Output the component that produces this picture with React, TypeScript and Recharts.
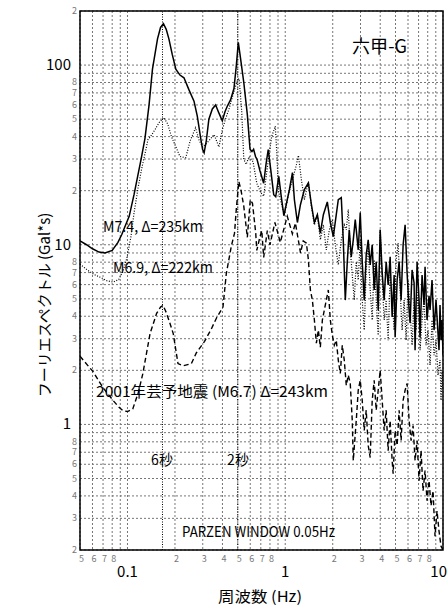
import React from 'react';
import { LineChart, Line, XAxis, YAxis, CartesianGrid, ReferenceLine, ReferenceArea } from 'recharts';

const FONT = '"Noto Sans CJK JP", "Noto Sans", sans-serif';

// 目盛り (対数軸)
const xTicks = [0.05, 0.06, 0.07, 0.08, 0.09, 0.1, 0.2, 0.3, 0.4, 0.5, 0.6, 0.7, 0.8, 0.9, 1, 2, 3, 4, 5, 6, 7, 8, 9, 10];
const xTickText = ['5', '6', '7', '8', '', '0.1', '2', '3', '4', '5', '6', '7', '8', '', '1', '2', '3', '4', '5', '6', '7', '8', '', '10'];
const xMajor = [0.1, 1, 10];

const yTicks = [0.2, 0.3, 0.4, 0.5, 0.6, 0.7, 0.8, 0.9, 1, 2, 3, 4, 5, 6, 7, 8, 9, 10, 20, 30, 40, 50, 60, 70, 80, 90, 100, 200];
const yTickText = ['2', '3', '4', '5', '6', '7', '8', '', '1', '2', '3', '4', '5', '6', '7', '8', '', '10', '2', '3', '4', '5', '6', '7', '8', '', '100', '2'];
const yMajor = [1, 10, 100];

// 周期の目安線 (秒)
const periods = [6, 2];

// M7.4, Δ=235km  [周波数 Hz, スペクトル Gal*s]
const m74: [number, number][] = [
  [0.05, 10.5], [0.055, 10.0], [0.06, 9.5], [0.066, 9.1], [0.072, 9.0], [0.08, 9.3], [0.087, 10.3], [0.092, 11.4],
  [0.097, 12.8], [0.1025, 14.4], [0.11, 19], [0.116, 24], [0.122, 30], [0.129, 39], [0.137, 60], [0.144, 95],
  [0.155, 140], [0.162, 162], [0.169, 170], [0.176, 158], [0.183, 140], [0.192, 115], [0.2025, 95], [0.215, 88],
  [0.228, 85], [0.245, 73], [0.264, 63], [0.277, 52], [0.29, 40], [0.299, 34], [0.306, 32.5], [0.316, 38],
  [0.328, 50], [0.345, 57], [0.362, 60], [0.38, 54], [0.399, 49], [0.415, 55], [0.429, 59], [0.45, 64],
  [0.473, 74], [0.49, 100], [0.504, 134], [0.52, 110], [0.546, 80], [0.575, 53], [0.598, 34], [0.615, 33],
  [0.63, 34], [0.648, 31], [0.663, 29.8], [0.69, 26], [0.73, 22], [0.755, 28], [0.78, 33.9], [0.81, 26],
  [0.845, 19], [0.87, 18.5], [0.91, 24], [0.94, 19], [0.98, 14.5], [1.063, 20.3], [1.111, 25.2], [1.143, 17.8],
  [1.194, 13.3], [1.248, 16.7], [1.322, 20.3], [1.402, 22.1], [1.465, 16.7], [1.53, 13.3], [1.598, 14.7], [1.669, 11.6],
  [1.744, 14.7], [1.848, 17.3], [1.931, 13.3], [2.017, 11.1], [2.106, 14.7], [2.169, 17.8], [2.266, 18.3], [2.332, 10.65],
  [2.402, 4.92], [2.473, 8.03], [2.546, 12.1], [2.621, 8.56], [2.699, 10.65], [2.778, 13.8], [2.902, 9.37], [2.988, 15.1],
  [3.076, 8.03], [3.167, 4.92], [3.26, 8.79], [3.356, 10.65], [3.456, 7.73], [3.558, 9.99], [3.663, 5.6], [3.772, 8.03],
  [3.883, 4.33], [3.998, 12.1], [4.116, 6.97], [4.237, 4.92], [4.362, 8.03], [4.491, 5.98], [4.624, 8.56], [4.76, 3.96],
  [4.901, 6.79], [4.973, 3.06], [5.12, 6.37], [5.271, 8.03], [5.427, 4.92], [5.587, 9.99], [5.752, 12.9], [5.922, 6.97],
  [6.097, 4.33], [6.186, 3.67], [6.369, 7.24], [6.557, 6.13], [6.653, 2.59], [6.849, 8.03], [7.052, 4.92], [7.155, 3.06],
  [7.367, 6.79], [7.584, 4.62], [7.696, 7.53], [7.923, 3.81], [8.157, 5.19], [8.277, 4.33], [8.522, 6.37], [8.773, 3.35],
  [9.033, 4.92], [9.165, 3.96], [9.435, 2.59], [9.574, 4.62], [9.715, 2.94], [9.857, 3.81], [10, 2.43],
];

// M6.9, Δ=222km
const m69: [number, number][] = [
  [0.05, 7.8], [0.056, 7.2], [0.062, 6.8], [0.067, 6.6], [0.074, 6.3], [0.081, 6.2], [0.088, 6.4], [0.094, 7.2],
  [0.099, 8.4], [0.105, 11], [0.11, 15], [0.117, 21], [0.124, 27.4], [0.13, 33], [0.135, 38.6], [0.14, 40],
  [0.15, 44], [0.159, 48], [0.17, 51], [0.18, 47], [0.19, 40], [0.2, 36], [0.215, 31], [0.234, 30.5],
  [0.25, 38], [0.27, 44.8], [0.285, 38], [0.3, 35], [0.32, 37], [0.354, 41], [0.38, 35], [0.4, 44],
  [0.418, 50], [0.44, 57], [0.47, 70], [0.497, 82], [0.51, 84], [0.53, 55], [0.546, 30], [0.565, 28],
  [0.59, 31], [0.625, 29], [0.66, 22], [0.7, 19.5], [0.73, 18.6], [0.77, 27], [0.82, 40], [0.865, 45.7],
  [0.885, 32], [0.905, 20], [0.932, 17.8], [0.988, 14.7], [1.048, 19], [1.111, 23], [1.177, 27.9], [1.212, 31.4],
  [1.266, 23], [1.322, 17.8], [1.402, 22.4], [1.465, 16.3], [1.53, 12.9], [1.598, 14.7], [1.669, 10.65], [1.744, 12.9],
  [1.821, 9.37], [1.903, 12.1], [1.988, 13.8], [2.076, 9.99], [2.169, 7.73], [2.266, 10.65], [2.367, 12.9], [2.437, 12.1],
  [2.509, 15.7], [2.583, 9.37], [2.66, 6.79], [2.738, 4.92], [2.819, 8.03], [2.902, 6.37], [2.988, 10.65], [3.076, 4.92],
  [3.167, 3.35], [3.26, 7.24], [3.356, 9.99], [3.456, 5.6], [3.558, 3.81], [3.663, 8.24], [3.772, 4.92], [3.883, 3.14],
  [3.998, 12.1], [4.116, 6.37], [4.237, 3.81], [4.362, 4.92], [4.491, 2.94], [4.624, 6.79], [4.76, 4.92], [4.901, 3.35],
  [5.046, 8.24], [5.195, 10.2], [5.348, 5.6], [5.507, 3.35], [5.669, 4.92], [5.837, 2.94], [6.009, 6.37], [6.186, 4.33],
  [6.369, 2.76], [6.557, 4.92], [6.751, 3.35], [6.95, 5.6], [7.155, 2.59], [7.367, 3.81], [7.584, 4.92], [7.809, 2.76],
  [8.039, 3.35], [8.277, 2.14], [8.522, 3.81], [8.773, 2.43], [9.033, 2.94], [9.299, 1.88], [9.574, 2.28], [9.715, 1.36],
  [9.857, 2.0], [10, 1.55],
];

// 2001年芸予地震 (M6.7) Δ=243km
const geiyo: [number, number][] = [
  [0.05, 2.4], [0.0524, 2.28], [0.0607, 1.96], [0.07, 1.6], [0.081, 1.36], [0.088, 1.25], [0.094, 1.19], [0.1, 1.18],
  [0.108, 1.22], [0.117, 1.5], [0.125, 1.91], [0.139, 3.2], [0.153, 4.15], [0.162, 4.5], [0.168, 4.6], [0.176, 4.2],
  [0.185, 3.7], [0.195, 3.2], [0.209, 2.18], [0.225, 2.12], [0.254, 2.18], [0.273, 2.5], [0.308, 2.9], [0.34, 3.4],
  [0.366, 3.9], [0.403, 4.5], [0.423, 6.9], [0.455, 9.8], [0.477, 11.6], [0.49, 16], [0.508, 22.5], [0.525, 20],
  [0.546, 16.4], [0.575, 11], [0.6, 17.8], [0.62, 17], [0.65, 11.6], [0.66, 9.3], [0.69, 11], [0.71, 12],
  [0.73, 8.5], [0.77, 12], [0.8, 10], [0.86, 13.3], [0.9, 11.5], [0.93, 10.3], [1.03, 14.4], [1.11, 11.5],
  [1.16, 13.2], [1.25, 9.0], [1.3, 10.5], [1.362, 10.2], [1.402, 8.24], [1.443, 5.6], [1.486, 4.92], [1.53, 3.81],
  [1.575, 2.83], [1.621, 3.35], [1.669, 2.69], [1.719, 3.81], [1.769, 4.33], [1.821, 4.92], [1.875, 5.6], [1.931, 3.81],
  [1.988, 3.14], [2.046, 2.76], [2.106, 2.94], [2.169, 2.28], [2.233, 1.92], [2.299, 2.76], [2.367, 2.28], [2.437, 1.65],
  [2.509, 1.88], [2.583, 1.69], [2.66, 1.05], [2.699, 0.629], [2.819, 1.05], [2.902, 1.55], [2.988, 1.76], [3.076, 1.36],
  [3.167, 0.925], [3.26, 1.2], [3.356, 0.763], [3.456, 0.654], [3.558, 1.36], [3.663, 1.76], [3.772, 1.2], [3.883, 1.55],
  [3.998, 2.0], [4.116, 1.36], [4.237, 0.925], [4.362, 1.2], [4.491, 0.715], [4.624, 1.05], [4.76, 0.629], [4.83, 0.532],
  [4.973, 0.925], [5.12, 0.763], [5.271, 1.2], [5.427, 0.813], [5.587, 1.36], [5.752, 1.55], [5.922, 1.69], [6.097, 1.05],
  [6.277, 0.813], [6.462, 0.985], [6.653, 0.629], [6.849, 0.813], [7.052, 0.486], [7.26, 0.715], [7.475, 0.427], [7.696, 0.553],
  [7.923, 0.376], [8.157, 0.486], [8.399, 0.353], [8.646, 0.427], [8.902, 0.239], [9.165, 0.33], [9.435, 0.255], [9.715, 0.21],
  [10, 0.2],
];

const toRows = (pts: [number, number][]) => pts.map(([f, v]) => ({ f, v }));

const XTick = (props: any) => {
  const { x, payload } = props;
  const i = xTicks.indexOf(payload.value);
  const text = xTickText[i];
  if (!text) return <g />;
  if (xMajor.includes(payload.value)) {
    // 右端の "10" は枠内に収める
    const last = i === xTicks.length - 1;
    return (
      <text x={last ? x + 4 : x} y={577} textAnchor={last ? 'end' : 'middle'} fontSize={15} fill="#000" fontFamily={FONT}>
        {text}
      </text>
    );
  }
  return <text x={x + 1.5} y={562} textAnchor="middle" fontSize={9} fill="#777" fontFamily={FONT}>{text}</text>;
};

const YTick = (props: any) => {
  const { y, payload } = props;
  const i = yTicks.indexOf(payload.value);
  const text = yTickText[i];
  if (!text) return <g />;
  if (yMajor.includes(payload.value)) {
    return <text x={71} y={y + 5} textAnchor="end" fontSize={15} fill="#000" fontFamily={FONT}>{text}</text>;
  }
  return <text x={77} y={y + 3} textAnchor="end" fontSize={9} fill="#777" fontFamily={FONT}>{text}</text>;
};

export default function App() {
  return (
    <div style={{ position: 'absolute', left: 0, top: 0, width: 448, height: 605, background: '#fff' }}>
      <LineChart width={448} height={605} margin={{ top: 11, right: 5, bottom: 0, left: 0 }}>
        <CartesianGrid stroke="#777" strokeDasharray="2 2" strokeWidth={1} />
        <XAxis
          dataKey="f" type="number" scale="log" domain={[0.05, 10]} ticks={xTicks} interval={0}
          allowDataOverflow height={55} tickLine={false} axisLine={false} tick={XTick}
        />
        <YAxis
          type="number" scale="log" domain={[0.2, 200]} ticks={yTicks} interval={0}
          allowDataOverflow width={80} tickLine={false} axisLine={false} tick={YTick}
        />
        {periods.map((p) => (
          <ReferenceLine key={p} x={1 / p} stroke="#000" strokeDasharray="1 1.5" strokeWidth={1} />
        ))}
        <Line data={toRows(geiyo)} dataKey="v" type="linear" stroke="#000" strokeWidth={1.4}
          strokeDasharray="5 3" dot={false} isAnimationActive={false} />
        <Line data={toRows(m69)} dataKey="v" type="linear" stroke="#000" strokeWidth={1.2}
          strokeDasharray="1 1.6" dot={false} isAnimationActive={false} />
        <Line data={toRows(m74)} dataKey="v" type="linear" stroke="#000" strokeWidth={1.5}
          dot={false} isAnimationActive={false} />
        <ReferenceArea x1={0.05} x2={10} y1={0.2} y2={200} fill="none" fillOpacity={0}
          stroke="#000" strokeWidth={1.5} ifOverflow="visible" />
      </LineChart>
      <svg width={448} height={605} style={{ position: 'absolute', left: 0, top: 0, pointerEvents: 'none' }}
        fontFamily={FONT} fill="#000">
        <text x={352} y={53} fontSize={18} textLength={55} lengthAdjust="spacingAndGlyphs">六甲-G</text>
        <text x={103} y={232} fontSize={15} textLength={100} lengthAdjust="spacingAndGlyphs">M7.4, Δ=235km</text>
        <text x={113} y={273} fontSize={15} textLength={100} lengthAdjust="spacingAndGlyphs">M6.9, Δ=222km</text>
        <text x={96} y={397} fontSize={15} textLength={232} lengthAdjust="spacingAndGlyphs">2001年芸予地震 (M6.7) Δ=243km</text>
        <text x={162} y={465} fontSize={14} textAnchor="middle">6秒</text>
        <text x={238} y={465} fontSize={14} textAnchor="middle">2秒</text>
        <text x={182} y={537} fontSize={15} textLength={153} lengthAdjust="spacingAndGlyphs">PARZEN WINDOW 0.05Hz</text>
        <text x={218} y={602} fontSize={15} textLength={84} lengthAdjust="spacingAndGlyphs">周波数 (Hz)</text>
        <text x={0} y={0} fontSize={15} textAnchor="middle" transform="translate(50 305) rotate(-90)">フーリエスペクトル (Gal*s)</text>
      </svg>
    </div>
  );
}
